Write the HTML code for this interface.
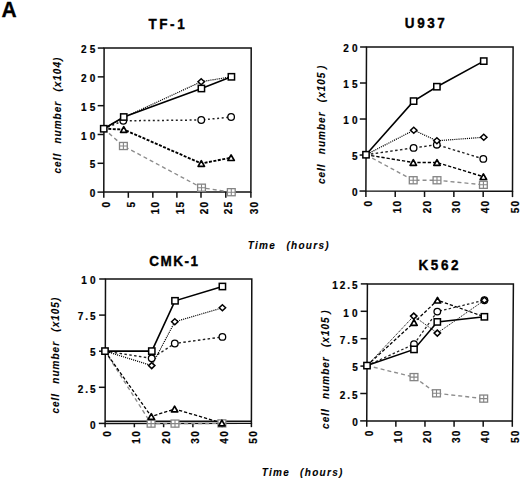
<!DOCTYPE html><html><head><meta charset="utf-8"><style>
html,body{margin:0;padding:0;background:#fff;}svg{display:block;}
text{font-family:"Liberation Sans",sans-serif;}
.t{font-weight:bold;font-size:13.5px;stroke:#000;stroke-width:0.35px;}
.tk{font-weight:bold;font-size:10px;letter-spacing:3.2px;stroke:#000;stroke-width:0.2px;}.tkd{letter-spacing:2px;}.tkx{letter-spacing:1.2px;}
.al{font-weight:bold;font-style:italic;font-size:10px;stroke:#000;stroke-width:0.1px;letter-spacing:1px;word-spacing:5.5px;}.tl{letter-spacing:1.3px;}
</style></head><body>
<svg width="520" height="480" viewBox="0 0 520 480">
<rect width="520" height="480" fill="#fff"/>
<text transform="translate(1.5,16.9) scale(1,1.08)" style="font-weight:bold;font-size:21px;" stroke="#000" stroke-width="0.3">A</text>
<g><text class="t" transform="translate(148.4,28.7) scale(1,1.12)" style="letter-spacing:2.6px">TF-1</text><path d="M104.1 48.05L251.2 47.9L250.9 192.05L103.8 192.1Z" fill="none" stroke="#111" stroke-width="1.5" stroke-linejoin="miter"/><path d="M97.50 192.10H103.80" stroke="#111" stroke-width="1.5"/><text class="tk" x="98.50" y="197.30" text-anchor="end">0</text><path d="M97.56 163.29H103.86" stroke="#111" stroke-width="1.5"/><text class="tk" x="98.50" y="168.49" text-anchor="end">5</text><path d="M97.62 134.48H103.92" stroke="#111" stroke-width="1.5"/><text class="tk" x="98.50" y="139.68" text-anchor="end">10</text><path d="M97.68 105.67H103.98" stroke="#111" stroke-width="1.5"/><text class="tk" x="98.50" y="110.87" text-anchor="end">15</text><path d="M97.74 76.86H104.04" stroke="#111" stroke-width="1.5"/><text class="tk" x="98.50" y="82.06" text-anchor="end">20</text><path d="M97.80 48.05H104.10" stroke="#111" stroke-width="1.5"/><text class="tk" x="98.50" y="53.25" text-anchor="end">25</text><path d="M103.80 192.10V197.80" stroke="#111" stroke-width="1.5"/><text class="tk tkx" transform="translate(110.40,200.80) rotate(-90)" text-anchor="end">0</text><path d="M128.32 192.09V197.79" stroke="#111" stroke-width="1.5"/><text class="tk tkx" transform="translate(134.92,200.80) rotate(-90)" text-anchor="end">5</text><path d="M152.83 192.08V197.78" stroke="#111" stroke-width="1.5"/><text class="tk tkx" transform="translate(159.43,200.80) rotate(-90)" text-anchor="end">10</text><path d="M176.90 192.07V197.77" stroke="#111" stroke-width="1.5"/><text class="tk tkx" transform="translate(183.50,200.80) rotate(-90)" text-anchor="end">15</text><path d="M201.00 192.07V197.77" stroke="#111" stroke-width="1.5"/><text class="tk tkx" transform="translate(207.60,200.80) rotate(-90)" text-anchor="end">20</text><path d="M225.80 192.06V197.76" stroke="#111" stroke-width="1.5"/><text class="tk tkx" transform="translate(232.40,200.80) rotate(-90)" text-anchor="end">25</text><path d="M250.90 192.05V197.75" stroke="#111" stroke-width="1.5"/><text class="tk tkx" transform="translate(257.50,200.80) rotate(-90)" text-anchor="end">30</text><text class="al" transform="translate(61.3,115.1) rotate(-90)" text-anchor="middle">cell number (x10<tspan dy="-0.8">4</tspan><tspan dy="0.8">)</tspan></text><path d="M103.75 128.75L123.40 146.00L201.50 187.70L231.30 192.20" fill="none" stroke="#8c8c8c" stroke-width="1.35" stroke-dasharray="4 3"/><path d="M103.75 128.75L123.75 129.50L201.30 163.50L231.10 157.70" fill="none" stroke="#000" stroke-width="1.9" stroke-dasharray="3 1.5"/><path d="M103.75 128.75L123.30 120.80L201.25 120.00L231.10 117.00" fill="none" stroke="#222" stroke-width="1.5" stroke-dasharray="2 2.6"/><path d="M103.75 128.75L123.75 117.50L201.20 81.70L231.40 76.80" fill="none" stroke="#000" stroke-width="1.2" stroke-dasharray="1.1 1"/><path d="M103.75 128.75L123.75 117.00L201.40 88.50L231.40 76.80" fill="none" stroke="#000" stroke-width="1.6"/><rect x="119.50" y="142.45" width="7.8" height="7.1" fill="#fff" stroke="#858585" stroke-width="1.3"/><path d="M123.40 142.45V149.55M119.50 146.00H127.30" stroke="#858585" stroke-width="1.1"/><rect x="197.60" y="184.15" width="7.8" height="7.1" fill="#fff" stroke="#858585" stroke-width="1.3"/><path d="M201.50 184.15V191.25M197.60 187.70H205.40" stroke="#858585" stroke-width="1.1"/><rect x="227.40" y="188.65" width="7.8" height="7.1" fill="#fff" stroke="#858585" stroke-width="1.3"/><path d="M231.30 188.65V195.75M227.40 192.20H235.20" stroke="#858585" stroke-width="1.1"/><path d="M123.75 126.70L126.95 132.30L120.55 132.30Z" fill="#fff" stroke="#000" stroke-width="1.7" stroke-linejoin="round"/><path d="M201.30 160.70L204.50 166.30L198.10 166.30Z" fill="#fff" stroke="#000" stroke-width="1.7" stroke-linejoin="round"/><path d="M231.10 154.90L234.30 160.50L227.90 160.50Z" fill="#fff" stroke="#000" stroke-width="1.7" stroke-linejoin="round"/><circle cx="123.30" cy="120.80" r="3.3" fill="#fff" stroke="#000" stroke-width="1.3"/><circle cx="201.25" cy="120.00" r="3.3" fill="#fff" stroke="#000" stroke-width="1.3"/><circle cx="231.10" cy="117.00" r="3.3" fill="#fff" stroke="#000" stroke-width="1.3"/><path d="M201.20 78.70L204.40 81.70L201.20 84.70L198.00 81.70Z" fill="#fff" stroke="#000" stroke-width="1.5"/><rect x="100.60" y="125.60" width="6.3" height="6.3" fill="#fff" stroke="#000" stroke-width="1.5"/><rect x="120.60" y="113.85" width="6.3" height="6.3" fill="#fff" stroke="#000" stroke-width="1.5"/><rect x="198.25" y="85.35" width="6.3" height="6.3" fill="#fff" stroke="#000" stroke-width="1.5"/><rect x="228.25" y="73.65" width="6.3" height="6.3" fill="#fff" stroke="#000" stroke-width="1.5"/></g>
<g><text class="t" transform="translate(404.8,27.9) scale(1,1.12)" style="letter-spacing:2.6px">U937</text><path d="M366.5 47.0L513.1 47.1L512.5 191.2L365.9 191.05Z" fill="none" stroke="#111" stroke-width="1.5" stroke-linejoin="miter"/><path d="M359.50 191.05H365.90" stroke="#111" stroke-width="1.5"/><text class="tk" x="360.80" y="196.25" text-anchor="end">0</text><path d="M359.65 155.04H366.05" stroke="#111" stroke-width="1.5"/><text class="tk" x="360.80" y="160.24" text-anchor="end">5</text><path d="M359.80 119.03H366.20" stroke="#111" stroke-width="1.5"/><text class="tk" x="360.80" y="124.23" text-anchor="end">10</text><path d="M359.95 83.01H366.35" stroke="#111" stroke-width="1.5"/><text class="tk" x="360.80" y="88.21" text-anchor="end">15</text><path d="M360.10 47.00H366.50" stroke="#111" stroke-width="1.5"/><text class="tk" x="360.80" y="52.20" text-anchor="end">20</text><path d="M365.90 191.05V196.95" stroke="#111" stroke-width="1.5"/><text class="tk tkx" transform="translate(372.10,199.80) rotate(-90)" text-anchor="end">0</text><path d="M395.22 191.08V196.98" stroke="#111" stroke-width="1.5"/><text class="tk tkx" transform="translate(401.42,199.80) rotate(-90)" text-anchor="end">10</text><path d="M424.54 191.11V197.01" stroke="#111" stroke-width="1.5"/><text class="tk tkx" transform="translate(430.74,199.80) rotate(-90)" text-anchor="end">20</text><path d="M453.86 191.14V197.04" stroke="#111" stroke-width="1.5"/><text class="tk tkx" transform="translate(460.06,199.80) rotate(-90)" text-anchor="end">30</text><path d="M483.18 191.17V197.07" stroke="#111" stroke-width="1.5"/><text class="tk tkx" transform="translate(489.38,199.80) rotate(-90)" text-anchor="end">40</text><path d="M512.50 191.20V197.10" stroke="#111" stroke-width="1.5"/><text class="tk tkx" transform="translate(518.70,199.80) rotate(-90)" text-anchor="end">50</text><text class="al" transform="translate(324.9,124.4) rotate(-90)" text-anchor="middle">cell number (x105<tspan dx="2.6">)</tspan></text><path d="M366.00 154.75L413.20 180.25L437.00 180.25L483.40 184.80" fill="none" stroke="#8c8c8c" stroke-width="1.35" stroke-dasharray="4 3"/><path d="M366.00 154.75L413.30 162.50L437.00 162.50L483.40 176.70" fill="none" stroke="#000" stroke-width="1.4" stroke-dasharray="3.3 1.9"/><path d="M366.00 154.75L413.60 147.90L436.80 144.70L483.30 158.90" fill="none" stroke="#222" stroke-width="1.4" stroke-dasharray="2.5 2.4"/><path d="M366.00 154.75L413.75 130.20L436.90 140.80L483.75 137.25" fill="none" stroke="#000" stroke-width="1.2" stroke-dasharray="1.1 1"/><path d="M366.00 154.75L413.60 101.10L436.90 86.70L483.75 61.10" fill="none" stroke="#000" stroke-width="1.6"/><rect x="409.30" y="176.70" width="7.8" height="7.1" fill="#fff" stroke="#858585" stroke-width="1.3"/><path d="M413.20 176.70V183.80M409.30 180.25H417.10" stroke="#858585" stroke-width="1.1"/><rect x="433.10" y="176.70" width="7.8" height="7.1" fill="#fff" stroke="#858585" stroke-width="1.3"/><path d="M437.00 176.70V183.80M433.10 180.25H440.90" stroke="#858585" stroke-width="1.1"/><rect x="479.50" y="181.25" width="7.8" height="7.1" fill="#fff" stroke="#858585" stroke-width="1.3"/><path d="M483.40 181.25V188.35M479.50 184.80H487.30" stroke="#858585" stroke-width="1.1"/><path d="M413.30 159.70L416.50 165.30L410.10 165.30Z" fill="#fff" stroke="#000" stroke-width="1.7" stroke-linejoin="round"/><path d="M437.00 159.70L440.20 165.30L433.80 165.30Z" fill="#fff" stroke="#000" stroke-width="1.7" stroke-linejoin="round"/><path d="M483.40 173.90L486.60 179.50L480.20 179.50Z" fill="#fff" stroke="#000" stroke-width="1.7" stroke-linejoin="round"/><circle cx="413.60" cy="147.90" r="3.3" fill="#fff" stroke="#000" stroke-width="1.3"/><circle cx="436.80" cy="144.70" r="3.3" fill="#fff" stroke="#000" stroke-width="1.3"/><circle cx="483.30" cy="158.90" r="3.3" fill="#fff" stroke="#000" stroke-width="1.3"/><path d="M413.75 127.20L416.95 130.20L413.75 133.20L410.55 130.20Z" fill="#fff" stroke="#000" stroke-width="1.5"/><path d="M436.90 137.80L440.10 140.80L436.90 143.80L433.70 140.80Z" fill="#fff" stroke="#000" stroke-width="1.5"/><path d="M483.75 134.25L486.95 137.25L483.75 140.25L480.55 137.25Z" fill="#fff" stroke="#000" stroke-width="1.5"/><rect x="362.85" y="151.60" width="6.3" height="6.3" fill="#fff" stroke="#000" stroke-width="1.5"/><rect x="410.45" y="97.95" width="6.3" height="6.3" fill="#fff" stroke="#000" stroke-width="1.5"/><rect x="433.75" y="83.55" width="6.3" height="6.3" fill="#fff" stroke="#000" stroke-width="1.5"/><rect x="480.60" y="57.95" width="6.3" height="6.3" fill="#fff" stroke="#000" stroke-width="1.5"/></g>
<g><text class="t" transform="translate(149.2,266.4) scale(1,1.12)" style="letter-spacing:1.5px">CMK-1</text><path d="M105.5 279.0L251.8 279.0L251.4 423.25L105.1 423.4Z" fill="none" stroke="#111" stroke-width="1.5" stroke-linejoin="miter"/><path d="M105.1 421.2L251.4 421.2" stroke="#111" stroke-width="1.5"/><path d="M98.80 423.40H105.10" stroke="#111" stroke-width="1.5"/><text class="tk" x="98.80" y="428.60" text-anchor="end">0</text><path d="M98.90 387.30H105.20" stroke="#111" stroke-width="1.5"/><text class="tk tkd" x="97.60" y="392.50" text-anchor="end">2.5</text><path d="M99.00 351.20H105.30" stroke="#111" stroke-width="1.5"/><text class="tk" x="98.80" y="356.40" text-anchor="end">5</text><path d="M99.10 315.10H105.40" stroke="#111" stroke-width="1.5"/><text class="tk tkd" x="97.60" y="320.30" text-anchor="end">7.5</text><path d="M99.20 279.00H105.50" stroke="#111" stroke-width="1.5"/><text class="tk" x="98.80" y="284.20" text-anchor="end">10</text><path d="M105.10 423.40V427.30" stroke="#111" stroke-width="1.5"/><text class="tk tkx" transform="translate(111.10,430.10) rotate(-90)" text-anchor="end">0</text><path d="M134.36 423.37V427.27" stroke="#111" stroke-width="1.5"/><text class="tk tkx" transform="translate(140.36,430.10) rotate(-90)" text-anchor="end">10</text><path d="M163.62 423.34V427.24" stroke="#111" stroke-width="1.5"/><text class="tk tkx" transform="translate(169.62,430.10) rotate(-90)" text-anchor="end">20</text><path d="M192.88 423.31V427.21" stroke="#111" stroke-width="1.5"/><text class="tk tkx" transform="translate(198.88,430.10) rotate(-90)" text-anchor="end">30</text><path d="M222.14 423.28V427.18" stroke="#111" stroke-width="1.5"/><text class="tk tkx" transform="translate(228.14,430.10) rotate(-90)" text-anchor="end">40</text><path d="M251.40 423.25V427.15" stroke="#111" stroke-width="1.5"/><text class="tk tkx" transform="translate(257.40,430.10) rotate(-90)" text-anchor="end">50</text><text class="al" transform="translate(58.8,355.2) rotate(-90)" text-anchor="middle">cell number (x105)</text><path d="M105.00 351.10L151.10 423.60L175.00 423.60L221.90 423.40" fill="none" stroke="#8c8c8c" stroke-width="1.35" stroke-dasharray="4 3"/><path d="M105.00 351.10L151.30 416.50L174.60 409.00L221.90 423.00" fill="none" stroke="#000" stroke-width="1.3" stroke-dasharray="3.3 1.9"/><path d="M105.00 351.10L151.70 358.30L174.80 343.50L222.40 336.90" fill="none" stroke="#222" stroke-width="1.4" stroke-dasharray="2.5 2.4"/><path d="M105.00 351.10L151.70 365.60L174.80 321.80L222.40 307.80" fill="none" stroke="#000" stroke-width="1.2" stroke-dasharray="1.1 1"/><path d="M105.00 351.10L151.80 351.10L175.00 300.80L222.40 286.50" fill="none" stroke="#000" stroke-width="1.6"/><rect x="147.20" y="420.05" width="7.8" height="7.1" fill="#fff" stroke="#858585" stroke-width="1.3"/><path d="M151.10 420.05V427.15M147.20 423.60H155.00" stroke="#858585" stroke-width="1.1"/><rect x="171.10" y="420.05" width="7.8" height="7.1" fill="#fff" stroke="#858585" stroke-width="1.3"/><path d="M175.00 420.05V427.15M171.10 423.60H178.90" stroke="#858585" stroke-width="1.1"/><rect x="218.00" y="419.85" width="7.8" height="7.1" fill="#fff" stroke="#858585" stroke-width="1.3"/><path d="M221.90 419.85V426.95M218.00 423.40H225.80" stroke="#858585" stroke-width="1.1"/><path d="M151.30 413.70L154.50 419.30L148.10 419.30Z" fill="#fff" stroke="#000" stroke-width="1.7" stroke-linejoin="round"/><path d="M174.60 406.20L177.80 411.80L171.40 411.80Z" fill="#fff" stroke="#000" stroke-width="1.7" stroke-linejoin="round"/><path d="M221.90 420.20L225.10 425.80L218.70 425.80Z" fill="#fff" stroke="#000" stroke-width="1.7" stroke-linejoin="round"/><circle cx="151.70" cy="358.30" r="3.3" fill="#fff" stroke="#000" stroke-width="1.3"/><circle cx="174.80" cy="343.50" r="3.3" fill="#fff" stroke="#000" stroke-width="1.3"/><circle cx="222.40" cy="336.90" r="3.3" fill="#fff" stroke="#000" stroke-width="1.3"/><path d="M151.70 362.60L154.90 365.60L151.70 368.60L148.50 365.60Z" fill="#fff" stroke="#000" stroke-width="1.5"/><path d="M174.80 318.80L178.00 321.80L174.80 324.80L171.60 321.80Z" fill="#fff" stroke="#000" stroke-width="1.5"/><path d="M222.40 304.80L225.60 307.80L222.40 310.80L219.20 307.80Z" fill="#fff" stroke="#000" stroke-width="1.5"/><rect x="101.85" y="347.95" width="6.3" height="6.3" fill="#fff" stroke="#000" stroke-width="1.5"/><rect x="148.65" y="347.95" width="6.3" height="6.3" fill="#fff" stroke="#000" stroke-width="1.5"/><rect x="171.85" y="297.65" width="6.3" height="6.3" fill="#fff" stroke="#000" stroke-width="1.5"/><rect x="219.25" y="283.35" width="6.3" height="6.3" fill="#fff" stroke="#000" stroke-width="1.5"/></g>
<g><text class="t" transform="translate(418.5,269.9) scale(1,1.12)" style="letter-spacing:2.6px">K562</text><path d="M367.4 283.9L513.4 284.1L512.3 421.0L366.75 420.9Z" fill="none" stroke="#111" stroke-width="1.5" stroke-linejoin="miter"/><path d="M360.15 420.90H366.75" stroke="#111" stroke-width="1.5"/><text class="tk" x="360.90" y="426.10" text-anchor="end">0</text><path d="M360.28 393.50H366.88" stroke="#111" stroke-width="1.5"/><text class="tk tkd" x="359.70" y="398.70" text-anchor="end">2.5</text><path d="M360.41 366.10H367.01" stroke="#111" stroke-width="1.5"/><text class="tk" x="360.90" y="371.30" text-anchor="end">5</text><path d="M360.54 338.70H367.14" stroke="#111" stroke-width="1.5"/><text class="tk tkd" x="359.70" y="343.90" text-anchor="end">7.5</text><path d="M360.67 311.30H367.27" stroke="#111" stroke-width="1.5"/><text class="tk" x="360.90" y="316.50" text-anchor="end">10</text><path d="M360.80 283.90H367.40" stroke="#111" stroke-width="1.5"/><text class="tk tkd" x="359.70" y="289.10" text-anchor="end">12.5</text><path d="M366.75 420.90V426.70" stroke="#111" stroke-width="1.5"/><text class="tk tkx" transform="translate(372.95,429.40) rotate(-90)" text-anchor="end">0</text><path d="M395.86 420.92V426.72" stroke="#111" stroke-width="1.5"/><text class="tk tkx" transform="translate(402.06,429.40) rotate(-90)" text-anchor="end">10</text><path d="M424.97 420.94V426.74" stroke="#111" stroke-width="1.5"/><text class="tk tkx" transform="translate(431.17,429.40) rotate(-90)" text-anchor="end">20</text><path d="M454.08 420.96V426.76" stroke="#111" stroke-width="1.5"/><text class="tk tkx" transform="translate(460.28,429.40) rotate(-90)" text-anchor="end">30</text><path d="M483.19 420.98V426.78" stroke="#111" stroke-width="1.5"/><text class="tk tkx" transform="translate(489.39,429.40) rotate(-90)" text-anchor="end">40</text><path d="M512.30 421.00V426.80" stroke="#111" stroke-width="1.5"/><text class="tk tkx" transform="translate(518.50,429.40) rotate(-90)" text-anchor="end">50</text><text class="al" transform="translate(328.8,369.2) rotate(-90)" text-anchor="middle">cell number (x105<tspan dx="2.6">)</tspan></text><path d="M367.00 365.60L414.00 377.10L436.50 393.30L483.70 398.60" fill="none" stroke="#8c8c8c" stroke-width="1.35" stroke-dasharray="4 3"/><path d="M367.00 365.60L414.00 322.50L437.50 300.20L484.40 316.80" fill="none" stroke="#000" stroke-width="1.25" stroke-dasharray="3.3 1.9"/><path d="M367.00 365.60L414.00 344.20L437.30 311.60L484.40 300.20" fill="none" stroke="#222" stroke-width="1.25" stroke-dasharray="2.5 2.2"/><path d="M367.00 365.60L413.75 316.10L437.30 333.10L484.40 300.20" fill="none" stroke="#000" stroke-width="1.0" stroke-dasharray="1.1 1"/><path d="M367.00 365.60L414.00 349.40L437.30 321.90L484.40 316.80" fill="none" stroke="#000" stroke-width="1.6"/><rect x="410.10" y="373.55" width="7.8" height="7.1" fill="#fff" stroke="#858585" stroke-width="1.3"/><path d="M414.00 373.55V380.65M410.10 377.10H417.90" stroke="#858585" stroke-width="1.1"/><rect x="432.60" y="389.75" width="7.8" height="7.1" fill="#fff" stroke="#858585" stroke-width="1.3"/><path d="M436.50 389.75V396.85M432.60 393.30H440.40" stroke="#858585" stroke-width="1.1"/><rect x="479.80" y="395.05" width="7.8" height="7.1" fill="#fff" stroke="#858585" stroke-width="1.3"/><path d="M483.70 395.05V402.15M479.80 398.60H487.60" stroke="#858585" stroke-width="1.1"/><path d="M414.00 319.70L417.20 325.30L410.80 325.30Z" fill="#fff" stroke="#000" stroke-width="1.7" stroke-linejoin="round"/><path d="M437.50 297.40L440.70 303.00L434.30 303.00Z" fill="#fff" stroke="#000" stroke-width="1.7" stroke-linejoin="round"/><circle cx="414.00" cy="344.20" r="3.3" fill="#fff" stroke="#000" stroke-width="1.3"/><circle cx="437.30" cy="311.60" r="3.3" fill="#fff" stroke="#000" stroke-width="1.3"/><circle cx="484.40" cy="300.20" r="3.3" fill="#fff" stroke="#000" stroke-width="1.3"/><path d="M413.75 313.10L416.95 316.10L413.75 319.10L410.55 316.10Z" fill="#fff" stroke="#000" stroke-width="1.5"/><path d="M437.30 330.10L440.50 333.10L437.30 336.10L434.10 333.10Z" fill="#fff" stroke="#000" stroke-width="1.5"/><path d="M484.40 297.20L487.60 300.20L484.40 303.20L481.20 300.20Z" fill="#fff" stroke="#000" stroke-width="1.5"/><rect x="363.85" y="362.45" width="6.3" height="6.3" fill="#fff" stroke="#000" stroke-width="1.5"/><rect x="410.85" y="346.25" width="6.3" height="6.3" fill="#fff" stroke="#000" stroke-width="1.5"/><rect x="434.15" y="318.75" width="6.3" height="6.3" fill="#fff" stroke="#000" stroke-width="1.5"/><rect x="481.25" y="313.65" width="6.3" height="6.3" fill="#fff" stroke="#000" stroke-width="1.5"/></g>
<text class="al tl" x="247.8" y="248.5">Time</text><text class="al tl" x="286.4" y="248.5">(hours)</text>
<text class="al tl" x="261.8" y="476.1">Time</text><text class="al tl" x="300.1" y="476.1">(hours)</text>
</svg></body></html>
